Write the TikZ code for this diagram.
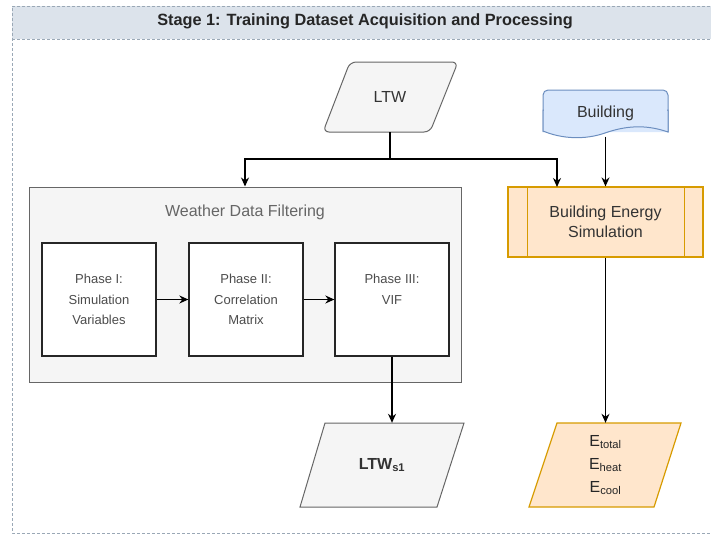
\documentclass[tikz,border=0pt]{standalone}
\usepackage{fontspec}
\setmainfont{Liberation Sans}
\usetikzlibrary{arrows.meta}

\definecolor{greyfill}{HTML}{F5F5F5}
\definecolor{greyline}{HTML}{666666}
\definecolor{bluefill}{HTML}{DAE8FC}
\definecolor{blueline}{HTML}{6C8EBF}
\definecolor{orangefill}{HTML}{FFE6CC}
\definecolor{orangeline}{HTML}{D79B00}
\definecolor{headfill}{HTML}{DCE3EB}
\definecolor{frameline}{HTML}{9AA8B6}
\definecolor{textgrey}{HTML}{333333}

\tikzset{
  frame/.style={draw=frameline, line width=0.9pt, dash pattern=on 3pt off 2pt},
  greyshape/.style={draw=greyline, fill=greyfill, line width=1pt},
  orangeshape/.style={draw=orangeline, fill=orangefill, line width=1.2pt},
  phasebox/.style={draw=black!85, fill=white, line width=1.3pt,
    minimum width=114pt, minimum height=113pt, inner sep=0pt,
    text=black!70, align=center, font=\fontsize{13}{20.5}\selectfont},
  label/.style={inner sep=0pt, text=textgrey, align=center},
  arr/.style={draw=black, line width=1.3pt, -{Stealth[length=9pt,width=8pt]}},
  wire/.style={draw=black, line width=1.3pt},
}

\begin{document}
\begin{tikzpicture}[x=1pt, y=-1pt]
\useasboundingbox (0,0) rectangle (711,535);

% stage frame with its header band
\fill[headfill] (12,6) rectangle (720,39);
\draw[frame] (720,6) -- (12,6) -- (12,533) -- (720,533);
\draw[frame] (12,39) -- (720,39);
\node[inner sep=0pt, font=\bfseries\fontsize{16.3}{19}\selectfont, text=black!85]
  (title) at (365,21.5) {Stage 1: Training Dataset Acquisition and Processing};

% LTW input (rounded parallelogram)
\draw[greyshape, rounded corners=6pt] (350,62) -- (458,62) -- (430,132) -- (323,132) -- cycle;
\node[label, minimum width=80pt, minimum height=70pt, font=\fontsize{16}{19}\selectfont]
  (ltw) at (390,97) {LTW};

% Building document
\draw[draw=blueline, fill=bluefill, line width=1pt, rounded corners=5pt]
  (543,132) -- (543,90) -- (668,90) -- (668,132);
\draw[draw=blueline, fill=bluefill, line width=1pt]
  (543,131) -- (543,110) -- (668,110) -- (668,132)
  .. controls (645,124) and (625,126) .. (605,133)
  .. controls (585,140) and (562,139) .. (543,131) -- cycle;
\fill[bluefill] (544,105) rectangle (667,115);
\node[label, minimum width=125pt, minimum height=47pt, font=\fontsize{16}{19}\selectfont]
  (bldg) at (605.5,113) {Building};

% Weather data filtering group
\node[greyshape, minimum width=432pt, minimum height=195pt, inner sep=0pt]
  (wdf) at (245,284.5) {};
\node[inner sep=0pt, text=greyline, font=\fontsize{16}{19}\selectfont]
  (wdftitle) at (245,212) {Weather Data Filtering};

\node[phasebox] (p1) at (99,299.5) {Phase I:\\Simulation\\Variables};
\node[phasebox] (p2) at (246,299.5) {Phase II:\\Correlation\\Matrix};
\node[phasebox] (p3) at (392,299.5) {Phase III:\\VIF\\\mbox{}};

\draw[arr] (p1.east) -- (p2.west);
\draw[arr] (p2.east) -- (p3.west);

% Building energy simulation (predefined process)
\node[orangeshape, minimum width=195pt, minimum height=70pt, inner sep=0pt,
  text=textgrey, align=center, font=\fontsize{16}{20.5}\selectfont]
  (bes) at (605.5,222) {Building Energy\\Simulation};
\draw[orangeline, line width=1.2pt] (bes.north west) ++(20,0) -- ++(0,70);
\draw[orangeline, line width=1.2pt] (bes.north east) ++(-19,0) -- ++(0,70);

% LTW feeds both the filtering and the simulation
\coordinate (split) at (390,159);
\draw[wire] (ltw.south) -- (split);
\draw[arr] (split) -| (wdf.north);
\draw[arr] (split) -| (557,187);
\draw[arr] (bldg.south) -- (bldg.south |- bes.north);

% filtered weather output
\draw[greyshape] (325,423) -- (464,423) -- (437,507) -- (300,507) -- cycle;
\node[label, minimum width=110pt, minimum height=84pt,
  font=\bfseries\fontsize{16}{19}\selectfont]
  (ltws) at (382,465) {LTW\textsubscript{s1}};
\draw[arr] (p3.south) -- (p3.south |- ltws.north);

% energy outputs
\draw[orangeshape] (557,423) -- (681,423) -- (654,507) -- (529,507) -- cycle;
\node[label, minimum width=100pt, minimum height=84pt, text=black!85,
  font=\fontsize{16}{23}\selectfont]
  (eout) at (605.5,465) {E\textsubscript{total}\\E\textsubscript{heat}\\E\textsubscript{cool}};
\draw[arr] (bes.south) -- (eout.north);

\end{tikzpicture}
\end{document}
